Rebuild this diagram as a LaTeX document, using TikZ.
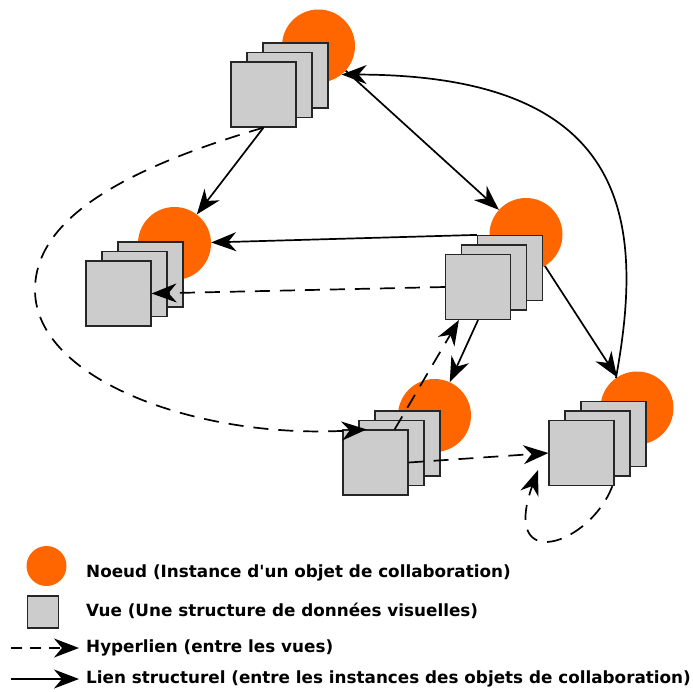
\documentclass[tikz,border=0pt]{standalone}
\usepackage{fontspec}
\newfontfamily\legfont{DejaVu Sans}
\usepackage{tikz}
\usetikzlibrary{arrows.meta}
\definecolor{orangeN}{HTML}{FF6600}
\definecolor{grisV}{HTML}{CCCCCC}
\tikzset{
  noeud/.style = {circle, fill=orangeN, minimum size=73pt, inner sep=0pt},% noeud
  vue/.style = {rectangle, draw=black!85, fill=grisV, line width=1.2pt,
    minimum size=65pt, inner sep=0pt},% vue
  structurel/.style = {-{Stealth[length=25pt,width=19pt,inset=8pt]},
    line width=1.7pt},% lien structurel
  hyperlien/.style = {structurel, dash pattern=on 15pt off 10pt},% hyperlien
  legende/.style = {anchor=west, inner sep=0pt,
    font=\legfont\bfseries\fontsize{16.8}{20}\selectfont}
}

\begin{document}
\begin{tikzpicture}[x=1pt, y=-1pt]
\useasboundingbox (0,0) rectangle (693,691);
% A
\node [noeud] (nA) at (318.5,46) {};
\node [vue] (vA3) at (295.5,75.5) {};
\node [vue] (vA2) at (279.5,85) {};
\node [vue] (vA1) at (263.5,94.5) {};
% B
\node [noeud] (nB) at (174.5,243.5) {};
\node [vue] (vB3) at (150.5,274.5) {};
\node [vue] (vB2) at (134.5,284) {};
\node [vue] (vB1) at (118.5,293.5) {};
% C
\node [noeud] (nC) at (526,234.5) {};
\node [vue] (vC3) at (510,268) {};
\node [vue] (vC2) at (494,277.5) {};
\node [vue] (vC1) at (478,287) {};
% D
\node [noeud] (nD) at (434.5,415.5) {};
\node [vue] (vD3) at (407.5,443.5) {};
\node [vue] (vD2) at (391.5,453) {};
\node [vue] (vD1) at (375.5,462.5) {};
% E
\node [noeud] (nE) at (637,408) {};
\node [vue] (vE3) at (613.5,434) {};
\node [vue] (vE2) at (597.5,443.5) {};
\node [vue] (vE1) at (581.5,453) {};
\coordinate (boucle) at (538,470);

% liens structurels
\draw [structurel] (vA1.south) -- (nB);
\draw [structurel] (nA) -- (nC);
\draw [structurel] (vC3.north west) -- (nB);
\draw [structurel] (nC.-59) -- (nE);
\draw [structurel] (vC1.south) -- (nD);
\draw [structurel] (nE.125) .. controls (645,220) and (630,75) .. (nA.-51);

% hyperliens
\draw [hyperlien] (vA1.south) .. controls (120,170) and (35,220) .. (35,290)
  .. controls (35,380) and (200,440) .. (vD1.105);
\draw [hyperlien] (vC1.west) -- (vB1.east);
\draw [hyperlien] (vD1.60) -- (vC1.-120);
\draw [hyperlien] (vD1.east) -- (vE1.west);
\draw [hyperlien] (vE1.-47) .. controls (590,545) and (500,575) .. (boucle);

% legende
\node [noeud, minimum size=40pt] (lNoeud) at (46.5,566) {};
\node [vue, minimum width=31pt, minimum height=32pt] (lVue) at (43,612) {};
\coordinate (hA) at (11,648);
\coordinate (hB) at (79,648);
\coordinate (sA) at (11,679);
\coordinate (sB) at (79,679);
\draw [hyperlien, dash pattern=on 11pt off 8pt] (hA) -- (hB);
\draw [structurel] (sA) -- (sB);
\node [legende] (tNoeud) at (86,573) {Noeud (Instance d'un objet de collaboration)};
\node [legende] (tVue) at (86,611) {Vue (Une structure de données visuelles)};
\node [legende] (tHyper) at (86,648) {Hyperlien (entre les vues)};
\node [legende] (tLien) at (86,679) {Lien structurel (entre les instances des objets de collaboration)};
\end{tikzpicture}
\end{document}
